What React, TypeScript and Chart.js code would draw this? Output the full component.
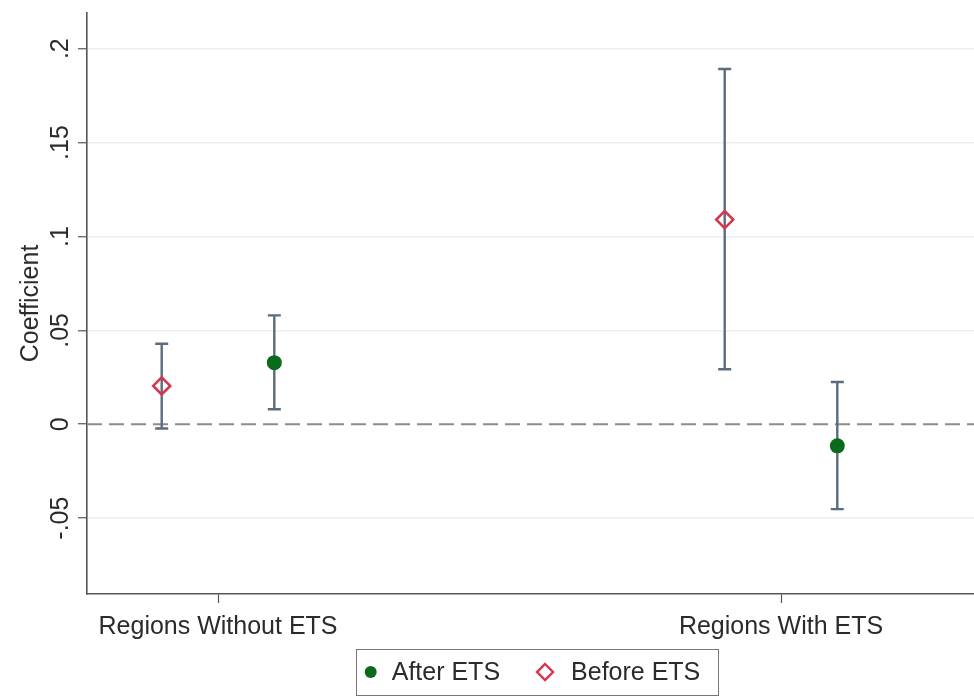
import React, { useEffect, useRef } from "react";
import { Chart, registerables } from "chart.js";

Chart.register(...registerables);

// ---- data ----
const categories = ["Regions Without ETS", "Regions With ETS"];
const seriesNames = ["After ETS", "Before ETS"];
const afterCoef = [0.0328, -0.0115];
const afterLow = [0.008, -0.0452];
const afterHigh = [0.058, 0.0225];
const beforeCoef = [0.0204, 0.109];
const beforeLow = [-0.0023, 0.0293];
const beforeHigh = [0.0429, 0.1892];
const yTickValues = [-0.05, 0, 0.05, 0.1, 0.15, 0.2];
const yTickLabels = ["-.05", "0", ".05", ".1", ".15", ".2"];
const yTitle = "Coefficient";

// ---- style / layout ----
const DODGE = 0.1;
const X_MIN = -0.2327;
const X_MAX = 1.3428;
const Y_MIN = -0.0904;
const Y_MAX = 0.219;
const GREEN = "#0b6b1c";
const RED = "#d8344c";
const BAR = "#5a6c7d";
const AXIS = "#555555";
const TEXT = "#2b2b2b";
const FONT_FAMILY = "'Liberation Sans', Arial, Helvetica, sans-serif";
const FONT_SIZE = 25;

const makePoints = (coef: number[], lo: number[], hi: number[], shift: number) =>
  categories.map((_, i) => ({ x: i + shift, y: coef[i], lo: lo[i], hi: hi[i] }));

const decorPlugin = {
  id: "decor",
  beforeDatasetsDraw(chart: any) {
    const { ctx, chartArea, scales } = chart;
    const ys = scales.y;
    // zero reference line
    const y0 = ys.getPixelForValue(0);
    ctx.save();
    ctx.strokeStyle = "#8c8c8c";
    ctx.lineWidth = 2;
    ctx.setLineDash([15, 7]);
    ctx.beginPath();
    ctx.moveTo(chartArea.left, y0);
    ctx.lineTo(chartArea.right, y0);
    ctx.stroke();
    ctx.restore();
    // error bars
    ctx.save();
    ctx.strokeStyle = BAR;
    ctx.lineWidth = 2.4;
    chart.data.datasets.forEach((ds: any, di: number) => {
      const meta = chart.getDatasetMeta(di);
      ds.data.forEach((p: any, j: number) => {
        const x = meta.data[j].x;
        const yl = ys.getPixelForValue(p.lo);
        const yh = ys.getPixelForValue(p.hi);
        ctx.beginPath();
        ctx.moveTo(x, yl);
        ctx.lineTo(x, yh);
        ctx.moveTo(x - 6.5, yl);
        ctx.lineTo(x + 6.5, yl);
        ctx.moveTo(x - 6.5, yh);
        ctx.lineTo(x + 6.5, yh);
        ctx.stroke();
      });
    });
    ctx.restore();
  },
  afterDraw(chart: any) {
    const { ctx, chartArea, scales } = chart;
    const ys = scales.y;
    ctx.save();
    ctx.fillStyle = TEXT;
    ctx.font = `${FONT_SIZE}px ${FONT_FAMILY}`;
    ctx.textAlign = "center";
    ctx.textBaseline = "alphabetic";
    // rotated y tick labels
    yTickValues.forEach((v, i) => {
      const y = ys.getPixelForValue(v);
      ctx.save();
      ctx.translate(chartArea.left - 19, y);
      ctx.rotate(-Math.PI / 2);
      ctx.fillText(yTickLabels[i], 0, 0);
      ctx.restore();
    });
    // y title
    ctx.save();
    ctx.translate(chartArea.left - 49, (chartArea.top + chartArea.bottom) / 2);
    ctx.rotate(-Math.PI / 2);
    ctx.fillText(yTitle, 0, 0);
    ctx.restore();

    // legend
    const w1 = ctx.measureText(seriesNames[0]).width;
    const w2 = ctx.measureText(seriesNames[1]).width;
    const boxW = 15 + 21 + w1 + 45 + 26 + w2 + 17;
    const cx = (chartArea.left + chartArea.right) / 2 + 6;
    const left = cx - boxW / 2;
    const top = chartArea.bottom + 55;
    const h = 46;
    const mid = top + h / 2;
    ctx.strokeStyle = "#777777";
    ctx.lineWidth = 1;
    ctx.strokeRect(Math.round(left) + 0.5, Math.round(top) + 0.5, Math.round(boxW), h);
    ctx.textAlign = "left";
    ctx.textBaseline = "middle";
    let x = left + 15;
    ctx.fillStyle = GREEN;
    ctx.beginPath();
    ctx.arc(x, mid, 6, 0, Math.PI * 2);
    ctx.fill();
    x += 21;
    ctx.fillStyle = TEXT;
    ctx.fillText(seriesNames[0], x, mid + 1);
    x += w1 + 45;
    ctx.strokeStyle = RED;
    ctx.lineWidth = 2.4;
    ctx.beginPath();
    ctx.moveTo(x, mid - 8);
    ctx.lineTo(x + 8, mid);
    ctx.lineTo(x, mid + 8);
    ctx.lineTo(x - 8, mid);
    ctx.closePath();
    ctx.stroke();
    x += 26;
    ctx.fillStyle = TEXT;
    ctx.fillText(seriesNames[1], x, mid + 1);
    ctx.restore();
  },
};

export default function App() {
  const ref = useRef<HTMLCanvasElement>(null);
  useEffect(() => {
    const chart = new Chart(ref.current as HTMLCanvasElement, {
      type: "scatter",
      data: {
        datasets: [
          {
            label: seriesNames[0],
            data: makePoints(afterCoef, afterLow, afterHigh, DODGE),
            pointStyle: "circle",
            pointRadius: 7.5,
            backgroundColor: GREEN,
            borderColor: GREEN,
            borderWidth: 0,
          },
          {
            label: seriesNames[1],
            data: makePoints(beforeCoef, beforeLow, beforeHigh, -DODGE),
            pointStyle: "rectRot",
            pointRadius: 8.5,
            backgroundColor: "rgba(0,0,0,0)",
            borderColor: RED,
            borderWidth: 2.6,
          },
        ],
      } as any,
      options: {
        animation: false,
        responsive: false,
        maintainAspectRatio: false,
        layout: { autoPadding: false, padding: { top: 13, right: 0, left: 0, bottom: 0 } },
        plugins: { legend: { display: false }, tooltip: { enabled: false } },
        scales: {
          x: {
            type: "linear",
            min: X_MIN,
            max: X_MAX,
            afterBuildTicks: (s: any) => {
              s.ticks = categories.map((_, i) => ({ value: i }));
            },
            afterFit: (s: any) => {
              s.height = 103;
            },
            ticks: {
              callback: (v: any) => categories[v as number] ?? "",
              font: { family: FONT_FAMILY, size: FONT_SIZE },
              color: TEXT,
              padding: 9,
              maxRotation: 0,
              minRotation: 0,
              autoSkip: false,
            },
            grid: {
              drawOnChartArea: false,
              drawTicks: true,
              tickLength: 9,
              tickColor: AXIS,
              tickWidth: 1.2,
            },
            border: { color: AXIS, width: 1.6 },
          },
          y: {
            type: "linear",
            min: Y_MIN,
            max: Y_MAX,
            afterBuildTicks: (s: any) => {
              s.ticks = yTickValues.map((v) => ({ value: v }));
            },
            afterFit: (s: any) => {
              s.width = 87;
            },
            ticks: { display: false },
            grid: {
              color: (c: any) => (c.tick && c.tick.value === 0 ? "rgba(0,0,0,0)" : "#eceef0"),
              lineWidth: 1.5,
              drawTicks: true,
              tickLength: 9,
              tickColor: AXIS,
              tickWidth: 1.2,
            },
            border: { color: AXIS, width: 1.6 },
          },
        },
      } as any,
      plugins: [decorPlugin],
    });
    return () => chart.destroy();
  }, []);
  return (
    <div style={{ position: "absolute", left: 0, top: 0, width: 974, height: 697, background: "#ffffff" }}>
      <canvas ref={ref} width={974} height={697} style={{ display: "block" }} />
    </div>
  );
}
